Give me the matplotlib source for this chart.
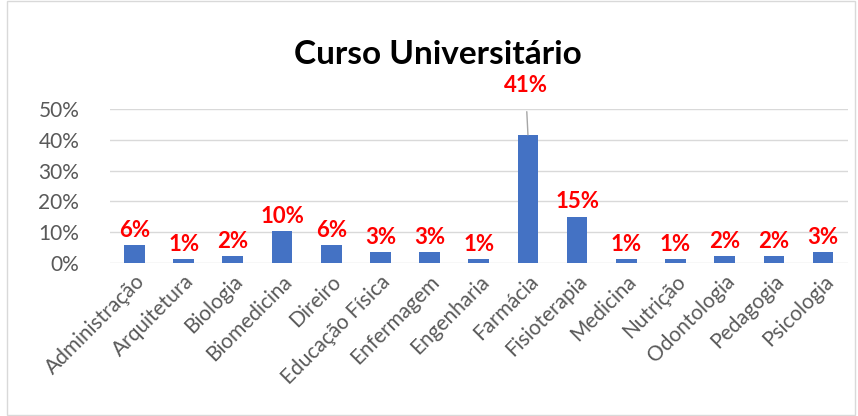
import matplotlib.pyplot as plt
from matplotlib.patches import Rectangle
from matplotlib.ticker import PercentFormatter

plt.rcParams['font.family'] = ['Lato', 'DejaVu Sans']

cursos = ['Administração', 'Arquitetura', 'Biologia', 'Biomedicina', 'Direiro',
          'Educação Física', 'Enfermagem', 'Engenharia', 'Farmácia', 'Fisioterapia',
          'Medicina', 'Nutrição', 'Odontologia', 'Pedagogia', 'Psicologia']
valores = [0.058, 0.012, 0.022, 0.104, 0.058, 0.035, 0.035, 0.012, 0.416, 0.150,
           0.012, 0.012, 0.023, 0.023, 0.035]
rotulos = ['6%', '1%', '2%', '10%', '6%', '3%', '3%', '1%', '41%', '15%',
           '1%', '1%', '2%', '2%', '3%']

fig = plt.figure(figsize=(8.58, 4.16), dpi=100)
fig.patches.append(Rectangle((0.008, 0.003), 0.988, 0.994, transform=fig.transFigure,
                             fill=False, edgecolor='#D9D9D9', linewidth=1))
ax = fig.add_axes([0.128, 0.368, 0.86, 0.37])

x = range(len(cursos))
ax.bar(x, valores, width=0.42, color='#4472C4', zorder=3)

ax.set_ylim(0, 0.5)
ax.set_xlim(-0.5, len(cursos) - 0.5)
ax.set_yticks([0, 0.1, 0.2, 0.3, 0.4, 0.5])
ax.yaxis.set_major_formatter(PercentFormatter(1.0, decimals=0))
ax.grid(axis='y', color='#D9D9D9', linewidth=1, zorder=0)
for s in ax.spines.values():
    s.set_visible(False)
ax.tick_params(axis='y', length=0, labelsize=15, labelcolor='#595959', pad=22)
ax.tick_params(axis='x', length=0, labelsize=15, labelcolor='#595959', pad=6)
ax.set_xticks(list(x))
ax.set_xticklabels(cursos, rotation=45, ha='right', rotation_mode='anchor')

for i, (v, r) in enumerate(zip(valores, rotulos)):
    if cursos[i] == 'Farmácia':
        ax.annotate(r, xy=(i, v), xytext=(i - 0.05, 0.575), ha='center', va='center',
                    color='red', fontsize=16, fontweight='bold',
                    arrowprops=dict(arrowstyle='-', color='#A6A6A6', lw=1,
                                    shrinkA=9, shrinkB=0),
                    annotation_clip=False)
    else:
        ax.text(i, v + 0.014, r, ha='center', va='bottom', color='red',
                fontsize=16, fontweight='bold')

fig.text(0.51, 0.868, 'Curso Universitário', ha='center', va='center',
         fontsize=24, fontweight='bold', color='black')

fig.savefig('out.png', dpi=100)
